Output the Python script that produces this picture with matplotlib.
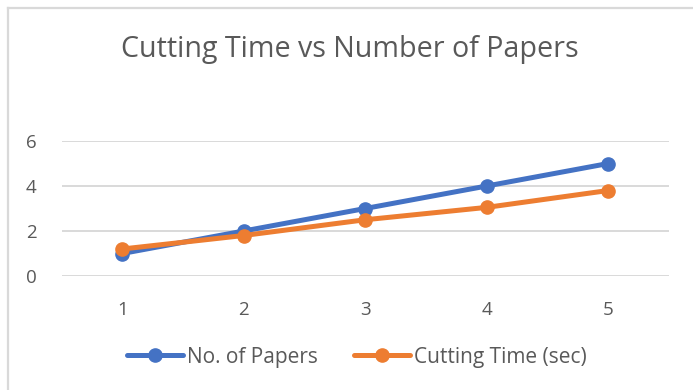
import matplotlib.pyplot as plt
from matplotlib.lines import Line2D

# data
papers = [1, 2, 3, 4, 5]
no_of_papers = [1, 2, 3, 4, 5]
cutting_time = [1.2, 1.8, 2.5, 3.05, 3.8]
y_ticks = [0, 2, 4, 6]

blue = '#4472C4'
orange = '#ED7D31'
txt = '#595959'

plt.rcParams['font.family'] = ['Open Sans', 'DejaVu Sans']

W, H = 693, 390
fig = plt.figure(figsize=(6.93, 3.9), dpi=100)
ax = fig.add_axes([61.5/W, 1 - 276/H, 607.5/W, 135/H])

ax.plot(papers, no_of_papers, color=blue, lw=3.6, marker='o', ms=9.5,
        solid_capstyle='round', label='No. of Papers', zorder=3)
ax.plot(papers, cutting_time, color=orange, lw=3.6, marker='o', ms=9.5,
        solid_capstyle='round', label='Cutting Time (sec)', zorder=4)

ax.set_xlim(0.5, 5.5)
ax.set_ylim(0, 6)
ax.set_xticks(papers)
ax.set_yticks(y_ticks)
ax.grid(axis='y', color='#D9D9D9', lw=1.4)
ax.set_axisbelow(True)
for s in ax.spines.values():
    s.set_visible(False)
ax.tick_params(length=0, labelsize=13.5, labelcolor=txt)
ax.tick_params(axis='x', pad=18)
ax.tick_params(axis='y', pad=18)

fig.text(350/W, 1 - 49/H, 'Cutting Time vs Number of Papers', ha='center', va='center',
         fontsize=20.6, color=txt)

fig.legend(loc='center', bbox_to_anchor=(357/W, 1 - 357/H), ncol=2, frameon=False,
           fontsize=15, labelcolor=txt, handlelength=2.7, handletextpad=0.2,
           columnspacing=1.7)

# chart frame (only left and top edges are inside the crop)
fig.add_artist(Line2D([7.5/W, 7.5/W], [0, 1 - 7.5/H], transform=fig.transFigure,
                      color='#D9D9D9', lw=1.6))
fig.add_artist(Line2D([7.5/W, 1], [1 - 7.5/H, 1 - 7.5/H], transform=fig.transFigure,
                      color='#D9D9D9', lw=1.6))

fig.savefig('out.png', dpi=100)
